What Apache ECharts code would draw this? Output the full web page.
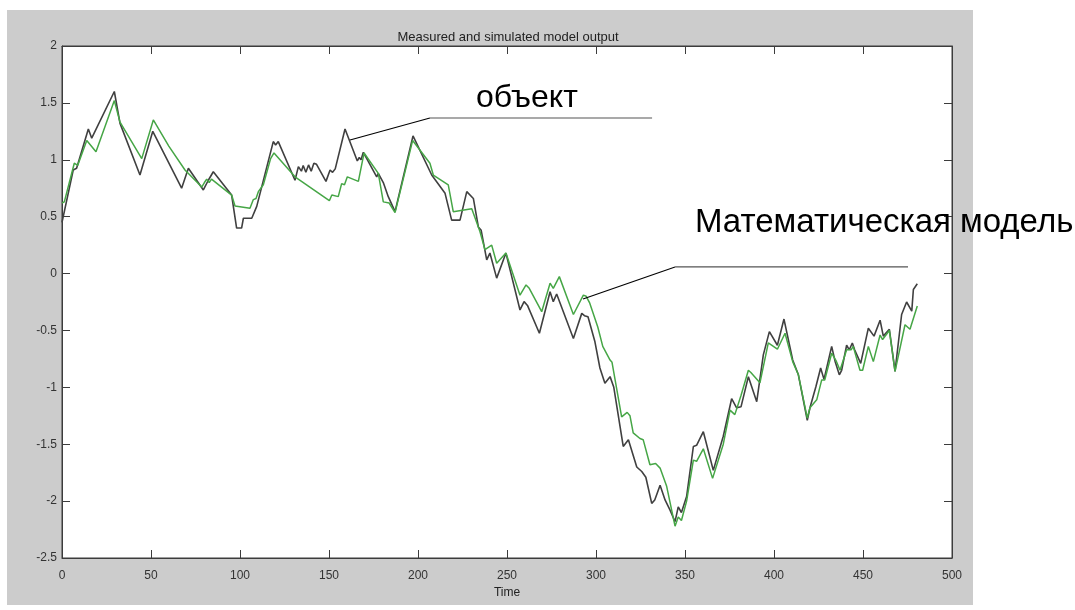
<!DOCTYPE html>
<html>
<head>
<meta charset="utf-8">
<script src="https://cdn.jsdelivr.net/npm/echarts@6/dist/echarts.min.js"></script>
<style>html,body{margin:0;padding:0;background:#fff;}#c{width:1075px;height:610px;}</style>
</head>
<body>
<div id="c"></div>
<script>
var titleText = 'Measured and simulated model output';
var xName = 'Time';
var xTicks = [0, 50, 100, 150, 200, 250, 300, 350, 400, 450, 500];
var yTicks = [-2.5, -2, -1.5, -1, -0.5, 0, 0.5, 1, 1.5, 2];

var measuredT = [0,1,6.3,8.2,14.8,16.7,29.4,32.6,43.8,51,67.2,71,79.4,82.2,85,95.3,98.1,100.9,101.9,106.6,109.4,118.7,120,121.5,130.9,132.8,134.5,135.5,137,138.5,140,141.5,143,148.3,150.6,152,153.5,159,165.9,167,168,169.3,176.8,177.7,180.5,183.3,187.1,197.2,207.7,215.2,218.9,223.6,227.4,231.1,233.9,235.5,238.6,240.4,244.2,249.4,257.3,259.6,261.5,268.2,274.2,276,277.9,287.3,292,293.5,295.5,299.4,302.2,305,307.9,310,315.3,318.2,322.9,325.7,328,331.3,333,336,338.8,341.6,344.4,346.2,348,350.9,354.7,356.5,360.3,365.9,371.5,376.2,377,379,381.5,385.6,390.3,394,397.4,401.9,405.6,410.5,413.7,418.7,420.2,423.6,426.2,428.1,432.4,434.3,436.7,438,440.8,442.3,444,445.3,448.7,453,456.2,459.6,461.4,464.8,468,471.7,474.5,477.4,478.3,480.5];
var measuredV = [0.45,0.45,0.91,0.925,1.27,1.19,1.60,1.32,0.866,1.25,0.75,0.925,0.735,0.82,0.895,0.69,0.40,0.40,0.486,0.486,0.59,1.16,1.13,1.16,0.82,0.94,0.90,0.95,0.89,0.955,0.90,0.97,0.96,0.81,0.91,0.89,0.92,1.27,0.99,1.02,1.0,1.066,0.85,0.88,0.80,0.676,0.544,1.21,0.866,0.705,0.47,0.47,0.72,0.66,0.41,0.38,0.12,0.18,-0.04,0.18,-0.32,-0.247,-0.28,-0.525,-0.16,-0.247,-0.18,-0.57,-0.35,-0.37,-0.38,-0.60,-0.83,-0.964,-0.906,-1.0,-1.52,-1.46,-1.70,-1.74,-1.79,-2.02,-1.99,-1.86,-1.99,-2.08,-2.18,-2.05,-2.10,-1.96,-1.52,-1.51,-1.39,-1.73,-1.43,-1.10,-1.105,-1.18,-1.17,-0.906,-1.126,-0.715,-0.51,-0.63,-0.40,-0.76,-0.89,-1.29,-1.18,-0.99,-0.83,-0.93,-0.64,-0.77,-0.89,-0.85,-0.63,-0.67,-0.61,-0.67,-0.79,-0.48,-0.55,-0.41,-0.55,-0.49,-0.86,-0.36,-0.25,-0.33,-0.14,-0.09];

var simulatedT = [0,1.3,6.9,8.8,13.9,19.1,29.4,32.6,44.8,51.3,60,69.1,78.5,80,81.3,82.7,84,95.3,97.2,105.6,107.5,109,110.3,113.1,117.2,119.1,130.9,150.2,151.6,155.2,157.1,158.7,160.3,166.5,169.7,177.7,180.5,183.8,187.1,197,206.7,208.6,217,219.8,230.2,234.8,237.6,241.4,244.2,249.4,257.3,260.7,262.5,269.5,274.2,276,279.4,287.3,292.9,294.5,296.5,301,303.8,307.9,309,314.4,317.5,319.1,320.9,324.7,326.5,330.3,333.5,336,339.7,344.4,346.2,348,350.9,354.7,356.5,360.3,365.5,371.5,375.3,378,381.5,385.6,387,392.1,396.8,401.9,406.2,410.5,413.7,418.7,420.2,424,426.8,428.5,432.4,435,437.1,440.8,443.3,444.5,448.3,449.8,453,455.8,459.6,461,464.8,468,473.6,476.4,480.5];
var simulatedV = [0.62,0.63,0.97,0.95,1.17,1.07,1.52,1.33,1.01,1.35,1.12,0.91,0.76,0.80,0.83,0.80,0.83,0.69,0.594,0.574,0.65,0.66,0.72,0.78,1.01,1.06,0.85,0.64,0.69,0.676,0.79,0.78,0.85,0.81,1.06,0.88,0.63,0.62,0.535,1.17,0.97,0.866,0.78,0.544,0.57,0.37,0.21,0.25,0.09,0.18,-0.19,-0.10,-0.13,-0.335,-0.085,-0.13,-0.027,-0.36,-0.19,-0.20,-0.26,-0.47,-0.64,-0.76,-0.78,-1.26,-1.22,-1.25,-1.40,-1.45,-1.46,-1.68,-1.67,-1.71,-1.87,-2.22,-2.14,-2.17,-2.0,-1.64,-1.65,-1.54,-1.80,-1.50,-1.20,-1.24,-1.07,-0.85,-0.87,-0.96,-0.61,-0.665,-0.525,-0.774,-0.89,-1.27,-1.18,-1.11,-0.935,-0.935,-0.70,-0.77,-0.85,-0.67,-0.67,-0.64,-0.85,-0.85,-0.64,-0.774,-0.54,-0.58,-0.50,-0.86,-0.45,-0.49,-0.285];

// annotation anchors in data coordinates
var noteObject = {text: 'объект', anchor: [161.8, 1.174], elbow: [206.7, 1.367], end: [331.5, 1.367]};
var noteModel = {text: 'Математическая модель', anchor: [292.7, -0.223], elbow: [344.4, 0.058], end: [475.3, 0.058]};

function pairs(t, v) { return t.map(function (x, i) { return [x, v[i]]; }); }

var FONT = 'Liberation Sans, Arial, sans-serif';
var AX = '#3c3c3c';
var chart = echarts.init(document.getElementById('c'), null, {renderer: 'canvas'});

function valAxis(pos, min, max, interval, showLabel, extra) {
  var a = {
    type: 'value', position: pos, min: min, max: max, interval: interval,
    axisLine: {show: true, onZero: false, lineStyle: {color: AX, width: 1}},
    axisTick: {show: true, inside: true, length: 8, lineStyle: {color: AX}},
    splitLine: {show: false},
    axisLabel: {show: showLabel, color: '#333', fontFamily: FONT, fontSize: 11}
  };
  for (var k in extra) a[k] = extra[k];
  return a;
}

chart.setOption({
  animation: false,
  backgroundColor: '#fff',
  title: {
    text: titleText, left: 508, top: 31, textAlign: 'center', padding: 0,
    textStyle: {fontFamily: FONT, fontSize: 13, fontWeight: 'normal', color: '#222'}
  },
  grid: {left: 62, right: 123, top: 46, bottom: 52, show: true, backgroundColor: '#fff', borderColor: AX, borderWidth: 1, containLabel: false},
  xAxis: [
    valAxis('bottom', 0, 500, 50, true, {
      name: xName, nameLocation: 'middle', nameGap: 29,
      nameTextStyle: {fontFamily: FONT, fontSize: 12, color: '#222'},
      axisLabel: {show: true, color: '#333', fontFamily: FONT, fontSize: 12, margin: 12}
    }),
    valAxis('top', 0, 500, 50, false, {})
  ],
  yAxis: [
    valAxis('left', -2.5, 2, 0.5, true, {axisLabel: {show: true, color: '#333', fontFamily: FONT, fontSize: 12, margin: 5}}),
    valAxis('right', -2.5, 2, 0.5, false, {})
  ],
  series: [
    {name: 'measured', type: 'line', data: pairs(measuredT, measuredV), showSymbol: false, symbol: 'none',
      lineStyle: {color: '#404040', width: 1.6}, z: 2},
    {name: 'simulated', type: 'line', data: pairs(simulatedT, simulatedV), showSymbol: false, symbol: 'none',
      lineStyle: {color: '#46a646', width: 1.5}, z: 3}
  ]
});

function px(p) { return chart.convertToPixel({xAxisIndex: 0, yAxisIndex: 0}, p); }
function noteGraphics(n, textX, textY, size) {
  var a = px(n.anchor), b = px(n.elbow), c = px(n.end);
  return [
    {type: 'polyline', z: 20, shape: {points: [a, b]}, style: {stroke: '#000', lineWidth: 1.1, fill: null}},
    {type: 'polyline', z: 20, shape: {points: [b, c]}, style: {stroke: '#555', lineWidth: 1.2, fill: null}},
    {type: 'text', z: 21, x: textX, y: textY, style: {text: n.text, fill: '#000', font: size + 'px ' + FONT, textVerticalAlign: 'middle'}}
  ];
}
var g = [{
  type: 'rect', z: -10, silent: true,
  shape: {x: 7, y: 10, width: 966, height: 595},
  style: {fill: '#cccccc'}
}].concat(noteGraphics(noteObject, 476, 98, 32)).concat(noteGraphics(noteModel, 695, 223, 33));
chart.setOption({graphic: g});
</script>
</body>
</html>
